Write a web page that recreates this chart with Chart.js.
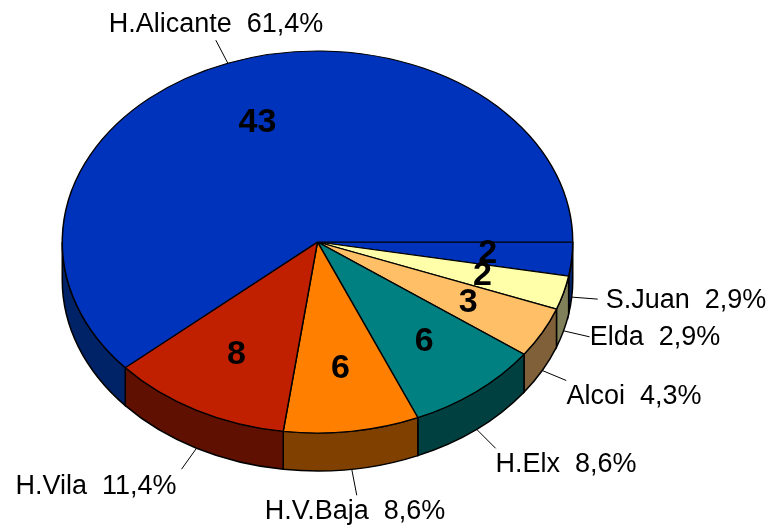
<!DOCTYPE html>
<html>
<head>
<meta charset="utf-8">
<title>Pie</title>
<script src="https://cdn.jsdelivr.net/npm/chart.js@4"></script>
<style>
  html, body { margin: 0; padding: 0; background: #fff; }
  canvas { display: block; }
</style>
</head>
<body>
<canvas id="myChart" width="774" height="529"></canvas>
<script>
// values, clockwise starting at 3 o'clock
var categories = ['S.Juan', 'Elda', 'Alcoi', 'H.Elx', 'H.V.Baja', 'H.Vila', 'H.Alicante'];
var values = [2, 2, 3, 6, 6, 8, 43];
var topColors = ['#0033bb', '#ffffaa', '#ffbf66', '#008080', '#ff8000', '#c02000', '#0033bb'];
var sideColors = ['#002266', '#80805a', '#806038', '#004040', '#804000', '#601000', '#002266'];

// where the outside labels go: leader end (relative to pie edge) and text centre
var leaderEnds = [[26, 2], [26, 6], [24, 10], [19, 19], [5, 26], [-15, 21], [-12, -23]];
var textCentres = [[686, 301], [655, 338], [634, 397], [566, 465], [355, 512], [96, 487], [216, 25]];

var centreY = 242;
var radiusY = 191;
var depth = 38;

var total = values.reduce(function (a, b) { return a + b; }, 0);

function percentText(v) {
  return (v / total * 100).toFixed(1).replace('.', ',') + '%';
}

var pie3d = {
  id: 'pie3d',
  beforeDatasetsDraw: function (chart) {
    var ctx = chart.ctx;
    var arcs = chart.getDatasetMeta(0).data;
    var tilt = radiusY / arcs[0].outerRadius;

    // side wall, only the front half of the pie shows it
    ctx.save();
    ctx.lineWidth = 1.5;
    ctx.strokeStyle = '#000';
    arcs.forEach(function (arc, i) {
      var a = Math.max(arc.startAngle, 0);
      var b = Math.min(arc.endAngle, Math.PI);
      if (a >= b) return;
      var r = arc.outerRadius;
      ctx.beginPath();
      ctx.ellipse(arc.x, centreY, r, radiusY, 0, a, b);
      ctx.ellipse(arc.x, centreY + depth, r, radiusY, 0, b, a, true);
      ctx.closePath();
      ctx.fillStyle = sideColors[i];
      ctx.fill();
      ctx.stroke();
    });
    ctx.restore();

    // squash the flat pie into an ellipse
    ctx.save();
    ctx.translate(0, centreY);
    ctx.scale(1, tilt);
    ctx.translate(0, -arcs[0].y);
  },
  afterDatasetsDraw: function (chart) {
    var ctx = chart.ctx;
    ctx.restore();

    var arcs = chart.getDatasetMeta(0).data;
    ctx.save();
    ctx.textAlign = 'center';
    ctx.textBaseline = 'middle';
    ctx.fillStyle = '#000';
    ctx.strokeStyle = '#000';
    ctx.lineWidth = 1;

    arcs.forEach(function (arc, i) {
      var mid = (arc.startAngle + arc.endAngle) / 2;
      var r = arc.outerRadius;

      // value inside the slice
      ctx.font = 'bold 34px "Liberation Sans", Arial, sans-serif';
      ctx.fillText(String(values[i]),
        arc.x + 0.67 * r * Math.cos(mid),
        centreY + 0.67 * radiusY * Math.sin(mid));

      // leader line from the outer edge
      var ex = arc.x + r * Math.cos(mid);
      var ey = centreY + radiusY * Math.sin(mid);
      if (Math.sin(mid) > 0) ey += depth;
      ctx.beginPath();
      ctx.moveTo(ex, ey);
      ctx.lineTo(ex + leaderEnds[i][0], ey + leaderEnds[i][1]);
      ctx.stroke();

      // outside label
      ctx.font = '27px "Liberation Sans", Arial, sans-serif';
      ctx.fillText(categories[i] + '  ' + percentText(values[i]), textCentres[i][0], textCentres[i][1]);
    });
    ctx.restore();
  }
};

var ctx = document.getElementById('myChart').getContext('2d');
var chart = new Chart(ctx, {
  type: 'pie',
  data: {
    labels: categories,
    datasets: [{
      data: values,
      backgroundColor: topColors,
      borderColor: '#000',
      borderWidth: 1.5,
      clip: false
    }]
  },
  options: {
    responsive: false,
    animation: false,
    rotation: 90,
    layout: { padding: { left: 61, right: 200, top: 0, bottom: 17 } },
    plugins: {
      legend: { display: false },
      tooltip: { enabled: false }
    }
  },
  plugins: [pie3d]
});
</script>
</body>
</html>
